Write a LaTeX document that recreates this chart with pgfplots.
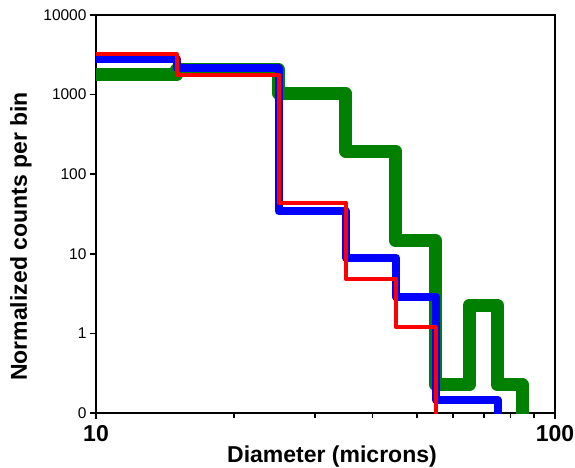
\documentclass[border=0pt]{standalone}
\usepackage{fontspec}
\setmainfont{Liberation Sans}
\usepackage{pgfplots}
\pgfplotsset{compat=1.18}
\definecolor{dgreen}{RGB}{0,128,0}
\begin{document}
\begin{tikzpicture}
\useasboundingbox (-96pt,-55pt) rectangle (479pt,413pt);
\begin{axis}[
  at={(0pt,0pt)}, anchor=south west,
  width=459pt, height=398pt, scale only axis,
  xmode=log, ymode=log,
  xmin=10, xmax=100, ymin=0.1, ymax=10000,
  xtick={10,100}, xticklabels={10,100},
  minor xtick={20,30,40,50,60,70,80,90},
  ytick={0.1,1,10,100,1000,10000},
  yticklabels={0,1,10,100,1000,10000},
  yminorticks=false,
  tick align=outside,
  xtick pos=left, ytick pos=left,
  major tick length=6pt, minor tick length=5pt,
  major tick style={black, line width=1.5pt},
  minor tick style={black, line width=1.5pt},
  axis line style={line width=2.5pt},
  clip=true,
  xticklabel style={font=\fontsize{23}{27}\selectfont\bfseries, yshift=-3pt},
  yticklabel style={font=\fontsize{15.5}{18}\selectfont},
  /pgf/number format/assume math mode=true,
]
\addplot[const plot mark left, dgreen, line width=13pt, line join=round] coordinates {
  (10,1763) (15,2050) (25,1032) (35,195) (45,14.5) (55,0.225) (65,2.24) (75,0.225) (85,0.09)};
\addplot[const plot mark left, blue, line width=8pt, line join=round] coordinates {
  (10,2799) (15,2128) (25,34) (35,8.98) (45,2.83) (55,0.146) (75,0.09)};
\addplot[const plot mark left, red, line width=4pt, line join=round] coordinates {
  (10,3190) (15,1788) (25,44) (35,4.82) (45,1.2) (55,0.09)};
\end{axis}
\node[font=\fontsize{23}{27}\selectfont\bfseries, anchor=base] at (236pt,-49pt) {Diameter (microns)};
\node[font=\fontsize{23}{27}\selectfont\bfseries, anchor=base, rotate=90] at (-69pt,176.5pt) {Normalized counts per bin};
\end{tikzpicture}
\end{document}
